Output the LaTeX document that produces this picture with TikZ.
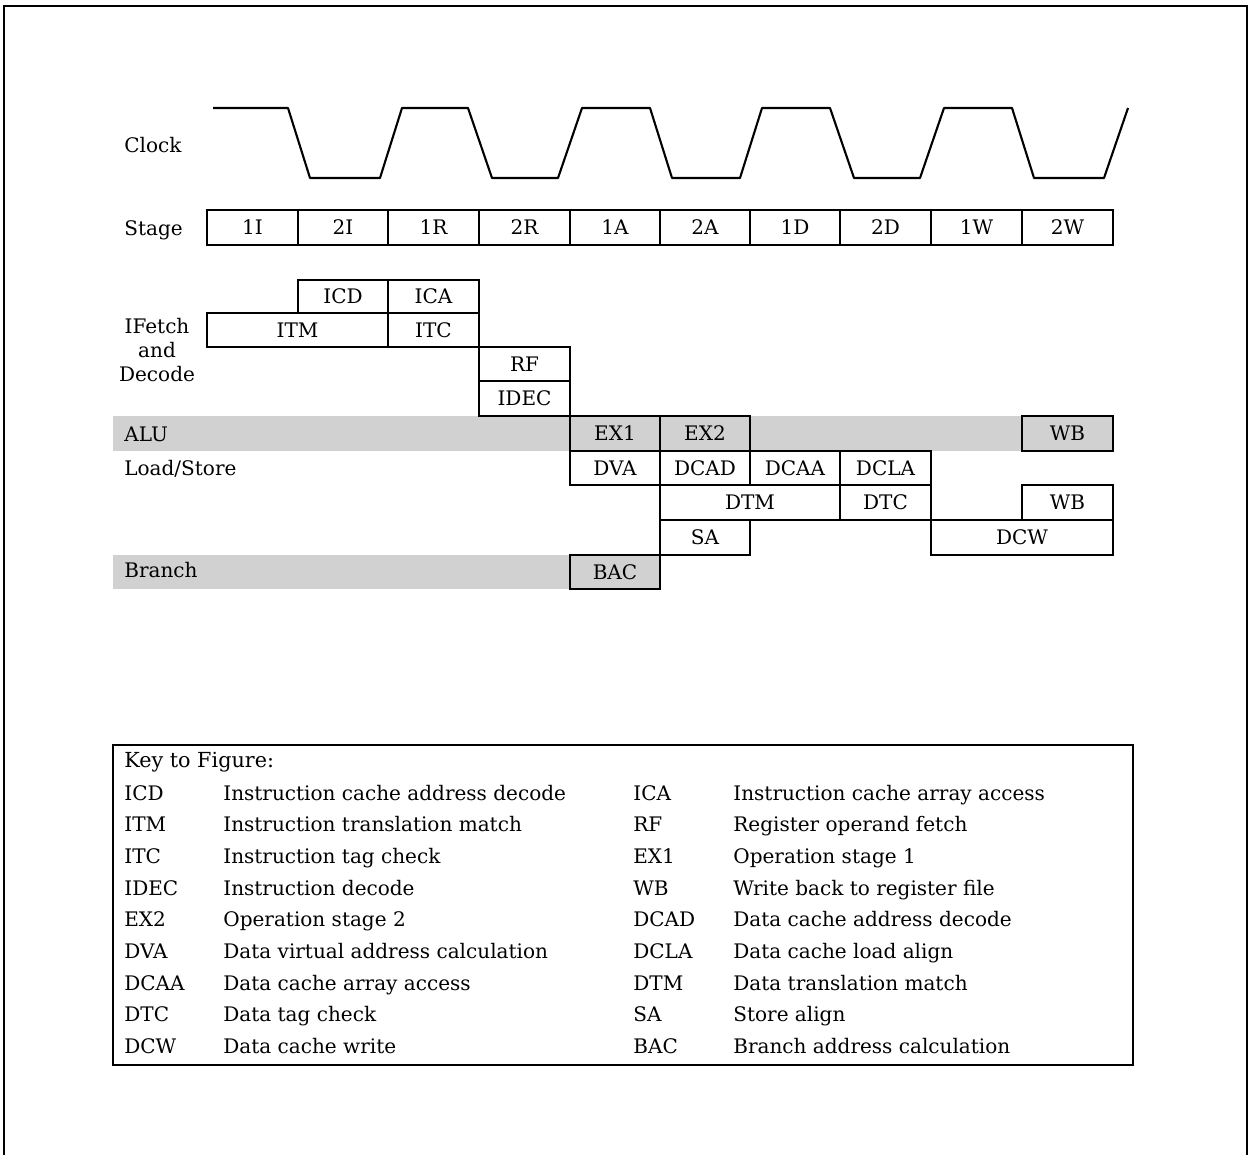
\documentclass[tikz,border=0pt]{standalone}
\usepackage{fontspec}
\setmainfont{DejaVu Serif}
\begin{document}
\begin{tikzpicture}[x=0.02cm,y=-0.02cm,
  fnt/.style={font=\fontsize{11.4}{13}\selectfont, inner sep=0pt},
  txt/.style={fnt, text height=1.0em, text depth=0.18em},
  cell/.style={draw, line width=1.2pt, inner sep=0pt, txt},
  band/.style={fill=black!18, draw=none},
  keytxt/.style={txt, anchor=west},
  frame/.style={line width=0.8pt}]
\useasboundingbox (0,0) rectangle (1253,1155);
\newcommand\cellbox[6]{%
  \pgfmathsetmacro\cx{(#2+#4)/2}\pgfmathsetmacro\cy{(#3+#5)/2}%
  \pgfmathsetmacro\cw{(#4-#2)*0.02}\pgfmathsetmacro\ch{(#5-#3)*0.02}%
  \node[cell, minimum width=\cw cm, minimum height=\ch cm] (#1) at (\cx,\cy) {#6};}
% outer frame
\draw[frame] (4,1155) -- (4,6) -- (1247,6) -- (1247,1155);
% shaded bands
\fill[band] (113,416) rectangle (1113,451);
\fill[band] (113,555) rectangle (660,589);
% clock
\node[txt, anchor=west] (lclock) at (124,145) {Clock};
\draw[line width=1.2pt, line join=round]
  (213,108) -- (288,108) -- (310,178) -- (380,178) -- (402,108) -- (468,108)
  -- (492,178) -- (558,178) -- (582,108) -- (650,108) -- (672,178) -- (740,178)
  -- (762,108) -- (830,108) -- (854,178) -- (920,178) -- (944,108) -- (1012,108)
  -- (1034,178) -- (1104,178) -- (1128,108);
% stage row
\node[txt, anchor=west] (lstage) at (124,228) {Stage};
\cellbox{s1}{207}{210}{298}{245}{1I}
\cellbox{s2}{298}{210}{388}{245}{2I}
\cellbox{s3}{388}{210}{479}{245}{1R}
\cellbox{s4}{479}{210}{570}{245}{2R}
\cellbox{s5}{570}{210}{660}{245}{1A}
\cellbox{s6}{660}{210}{750}{245}{2A}
\cellbox{s7}{750}{210}{840}{245}{1D}
\cellbox{s8}{840}{210}{931}{245}{2D}
\cellbox{s9}{931}{210}{1022}{245}{1W}
\cellbox{s10}{1022}{210}{1113}{245}{2W}
% IFetch and Decode
\node[fnt, align=center, font=\fontsize{11.4}{13.6}\selectfont] (lifetch) at (157,350) {IFetch\\and\\Decode};
\cellbox{icd}{298}{280}{388}{313}{ICD}
\cellbox{ica}{388}{280}{479}{313}{ICA}
\cellbox{itm}{207}{313}{388}{347}{ITM}
\cellbox{itc}{388}{313}{479}{347}{ITC}
\cellbox{rf}{479}{347}{570}{381}{RF}
\cellbox{idec}{479}{381}{570}{416}{IDEC}
% ALU
\node[txt, anchor=west] (lalu) at (124,434) {ALU};
\cellbox{ex1}{570}{416}{660}{451}{EX1}
\cellbox{ex2}{660}{416}{750}{451}{EX2}
\cellbox{wb1}{1022}{416}{1113}{451}{WB}
% Load/Store
\node[txt, anchor=west] (lls) at (124,468) {Load/Store};
\cellbox{dva}{570}{451}{660}{485}{DVA}
\cellbox{dcad}{660}{451}{750}{485}{DCAD}
\cellbox{dcaa}{750}{451}{840}{485}{DCAA}
\cellbox{dcla}{840}{451}{931}{485}{DCLA}
\cellbox{dtm}{660}{485}{840}{520}{DTM}
\cellbox{dtc}{840}{485}{931}{520}{DTC}
\cellbox{wb2}{1022}{485}{1113}{520}{WB}
\cellbox{sa}{660}{520}{750}{555}{SA}
\cellbox{dcw}{931}{520}{1113}{555}{DCW}
% Branch
\node[txt, anchor=west] (lbr) at (124,570) {Branch};
\cellbox{bac}{570}{555}{660}{589}{BAC}
% key
\node[draw, line width=0.9pt, minimum width=20.4cm, minimum height=6.4cm, inner sep=0pt] (key) at (623,905) {};
\node[txt, anchor=west, font=\fontsize{11.8}{13}\selectfont] (keyt) at (124,760) {Key to Figure:};
\foreach \i/\a/\d/\b/\e in {
  0/ICD/Instruction cache address decode/ICA/Instruction cache array access,
  1/ITM/Instruction translation match/RF/Register operand fetch,
  2/ITC/Instruction tag check/EX1/Operation stage 1,
  3/IDEC/Instruction decode/WB/Write back to register file,
  4/EX2/Operation stage 2/DCAD/Data cache address decode,
  5/DVA/Data virtual address calculation/DCLA/Data cache load align,
  6/DCAA/Data cache array access/DTM/Data translation match,
  7/DTC/Data tag check/SA/Store align,
  8/DCW/Data cache write/BAC/Branch address calculation}{
  \pgfmathsetmacro\yy{793+31.65*\i}
  \node[keytxt] (ka\i) at (124,\yy) {\a};
  \node[keytxt] (kd\i) at (223,\yy) {\d};
  \node[keytxt] (kb\i) at (633,\yy) {\b};
  \node[keytxt] (ke\i) at (733,\yy) {\e};
}
\end{tikzpicture}
\end{document}
